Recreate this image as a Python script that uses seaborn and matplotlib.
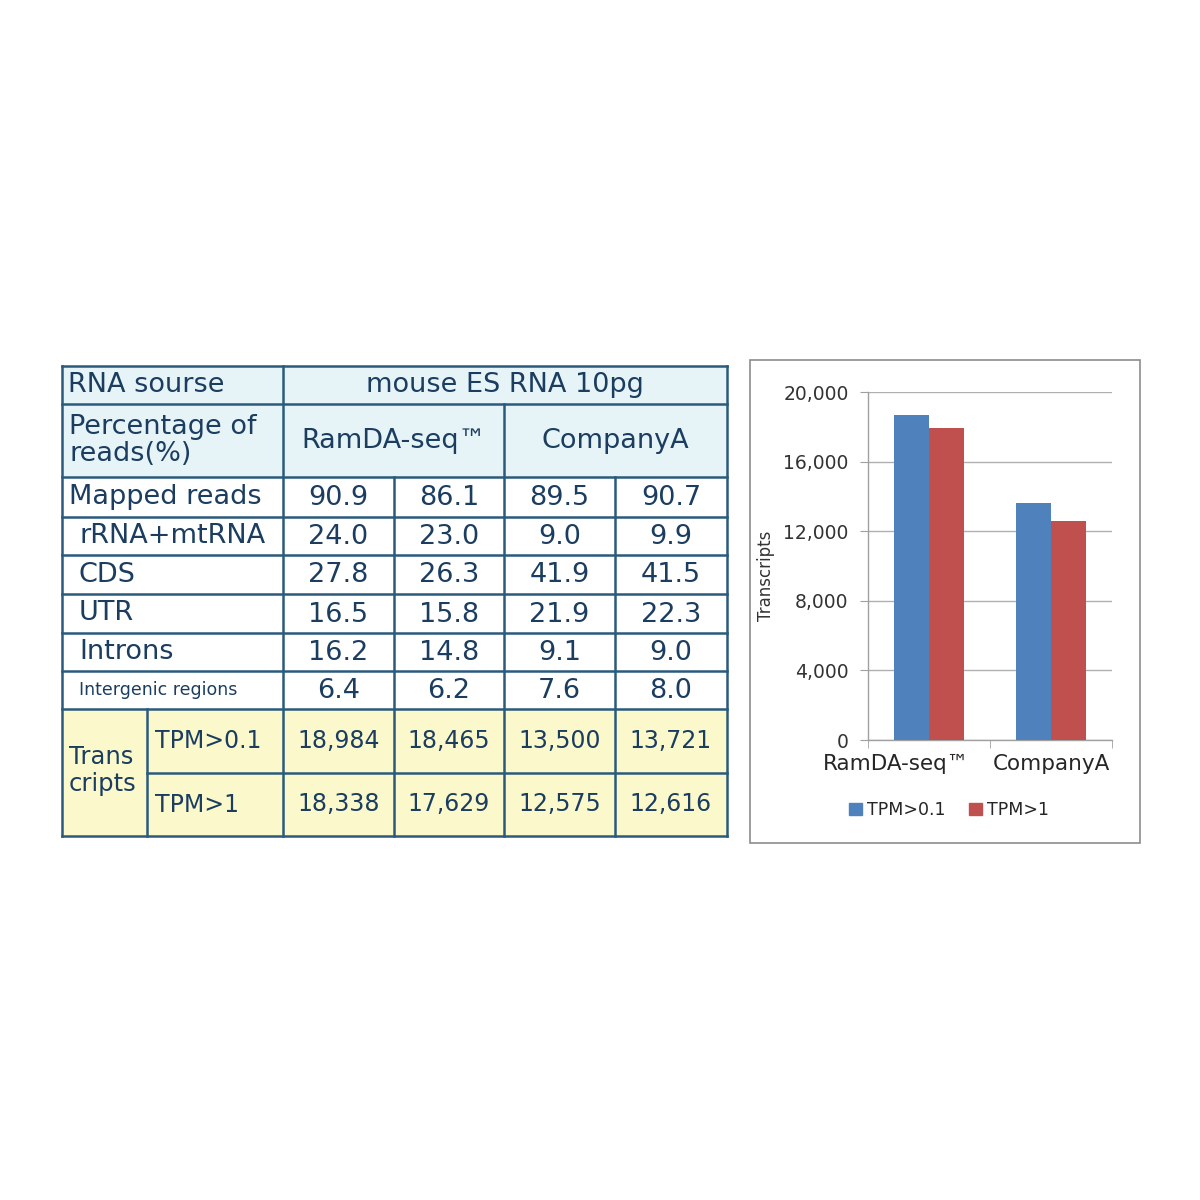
import matplotlib
matplotlib.use("Agg")
import matplotlib.pyplot as plt
import matplotlib.transforms as mtransforms
from matplotlib.patches import Rectangle, Patch
import pandas as pd
import seaborn as sns

# dati della tabella
methods = ["RamDA-seq™", "CompanyA"]
row_labels = ["Mapped reads", "rRNA+mtRNA", "CDS", "UTR", "Introns", "Intergenic regions"]
pct_values = [
    ["90.9", "86.1", "89.5", "90.7"],
    ["24.0", "23.0", "9.0", "9.9"],
    ["27.8", "26.3", "41.9", "41.5"],
    ["16.5", "15.8", "21.9", "22.3"],
    ["16.2", "14.8", "9.1", "9.0"],
    ["6.4", "6.2", "7.6", "8.0"],
]
tpm_labels = ["TPM>0.1", "TPM>1"]
tpm_values = [
    ["18,984", "18,465", "13,500", "13,721"],
    ["18,338", "17,629", "12,575", "12,616"],
]

# dati del grafico a barre
bar_methods = ["RamDA-seq™", "RamDA-seq™", "CompanyA", "CompanyA"]
bar_thresholds = ["TPM>0.1", "TPM>1", "TPM>0.1", "TPM>1"]
bar_values = [18700, 17950, 13600, 12600]
yticks = [0, 4000, 8000, 12000, 16000, 20000]

df = pd.DataFrame({"method": bar_methods, "threshold": bar_thresholds, "value": bar_values})

sns.set_style("white")
plt.rcParams["font.family"] = ["DejaVu Sans"]

fig = plt.figure(figsize=(12, 12), dpi=100)
W = 1200

# ---- tabella disegnata su un asse a pixel ----
tab = fig.add_axes([0, 0, 1, 1])
tab.set_xlim(0, W)
tab.set_ylim(W, 0)
tab.axis("off")
tab.patch.set_alpha(0)

line_c = "#2b5b7c"
text_c = "#1b3d60"
head_bg = "#e6f4f7"
yel_bg = "#fbf9cc"
lw = 1.8

xs = [62, 147, 283, 394, 504, 615, 727]
ys = [366, 404, 477, 517, 555, 594, 633, 671, 709, 773, 836]

tab.add_patch(Rectangle((xs[0], ys[0]), xs[-1] - xs[0], ys[2] - ys[0], color=head_bg, zorder=0))
tab.add_patch(Rectangle((xs[0], ys[8]), xs[-1] - xs[0], ys[10] - ys[8], color=yel_bg, zorder=0))

def hline(y, x0, x1):
    tab.plot([x0, x1], [y, y], color=line_c, lw=lw, solid_capstyle="projecting")

def vline(x, y0, y1):
    tab.plot([x, x], [y0, y1], color=line_c, lw=lw, solid_capstyle="projecting")

for y in ys[:9] + [ys[10]]:
    hline(y, xs[0], xs[-1])
hline(ys[9], xs[1], xs[-1])
vline(xs[0], ys[0], ys[-1])
vline(xs[-1], ys[0], ys[-1])
vline(xs[2], ys[0], ys[-1])
vline(xs[4], ys[1], ys[-1])
vline(xs[3], ys[2], ys[-1])
vline(xs[5], ys[2], ys[-1])
vline(xs[1], ys[8], ys[-1])

big = 19.5
tab.text(68, (ys[0] + ys[1]) / 2, "RNA sourse", fontsize=big, color=text_c, va="center")
tab.text((xs[2] + xs[-1]) / 2, (ys[0] + ys[1]) / 2, "mouse ES RNA 10pg", fontsize=big, color=text_c,
         ha="center", va="center")
tab.text(69, (ys[1] + ys[2]) / 2, "Percentage of\nreads(%)", fontsize=big, color=text_c, va="center",
         linespacing=1.05)
tab.text((xs[2] + xs[4]) / 2, (ys[1] + ys[2]) / 2, methods[0], fontsize=big, color=text_c,
         ha="center", va="center")
tab.text((xs[4] + xs[6]) / 2, (ys[1] + ys[2]) / 2, methods[1], fontsize=big, color=text_c,
         ha="center", va="center")

for i, lab in enumerate(row_labels):
    yc = (ys[2 + i] + ys[3 + i]) / 2
    xl = 69 if i == 0 else 79
    fs = 12.5 if i == len(row_labels) - 1 else big
    tab.text(xl, yc, lab, fontsize=fs, color=text_c, va="center")
    for j, v in enumerate(pct_values[i]):
        tab.text((xs[2 + j] + xs[3 + j]) / 2, yc + 1, v, fontsize=big, color=text_c,
                 ha="center", va="center")

tab.text(69, (ys[8] + ys[10]) / 2 - 2, "Trans\ncripts", fontsize=17.5, color=text_c, va="center",
         linespacing=1.2)
for i, lab in enumerate(tpm_labels):
    yc = (ys[8 + i] + ys[9 + i]) / 2
    tab.text(155, yc, lab, fontsize=17, color=text_c, va="center")
    for j, v in enumerate(tpm_values[i]):
        tab.text((xs[2 + j] + xs[3 + j]) / 2, yc, v, fontsize=17, color=text_c,
                 ha="center", va="center")

# cornice del grafico
tab.add_patch(Rectangle((750, 360), 390, 483, fill=False, edgecolor="#8c8c8c", lw=1.2))

# ---- grafico a barre ----
ax = fig.add_axes([868 / W, 1 - 740 / W, 244 / W, 348 / W])
sns.barplot(data=df, x="method", y="value", hue="threshold", order=methods,
            hue_order=tpm_labels, palette={"TPM>0.1": "#4f81bd", "TPM>1": "#c0504d"},
            width=0.57, saturation=1, edgecolor="none", ax=ax, zorder=3)
ax.set_xlim(-0.5, 1.5)
ax.set_ylim(0, 20000)
ax.set_yticks(yticks)
ax.set_yticklabels([f"{v:,}" for v in yticks])
ax.grid(axis="y", color="#b0b0b0", lw=1, zorder=0)
ax.set_axisbelow(True)
for s in ["top", "right"]:
    ax.spines[s].set_visible(False)
for s in ["left", "bottom"]:
    ax.spines[s].set_color("#a0a0a0")
    ax.spines[s].set_linewidth(1)
ax.tick_params(axis="y", length=6, color="#a0a0a0", labelsize=13.5, labelcolor="#333333", pad=8, left=True)
ax.tick_params(axis="x", which="major", length=0, labelsize=15.5, labelcolor="#262626", pad=10)
ax.set_xticks([-0.5, 0.5, 1.5], minor=True)
ax.tick_params(axis="x", which="minor", length=6, color="#a0a0a0", bottom=True)
labels = ax.get_xticklabels()
shift = mtransforms.ScaledTranslation(-33 / 100, 0, fig.dpi_scale_trans)
labels[0].set_transform(labels[0].get_transform() + shift)
ax.set_xlabel("")
ax.set_ylabel("Transcripts", fontsize=12, color="#333333")
ax.yaxis.set_label_coords(-0.38, 0.471)

handles = [Patch(color="#4f81bd"), Patch(color="#c0504d")]
ax.legend(handles, tpm_labels, loc="center", bbox_to_anchor=(0.332, -0.201), ncol=2, frameon=False,
          fontsize=12.5, handlelength=0.75, handleheight=0.75, handletextpad=0.3, columnspacing=1.3,
          labelcolor="#262626")

fig.savefig("out.png", dpi=100, facecolor="white")
